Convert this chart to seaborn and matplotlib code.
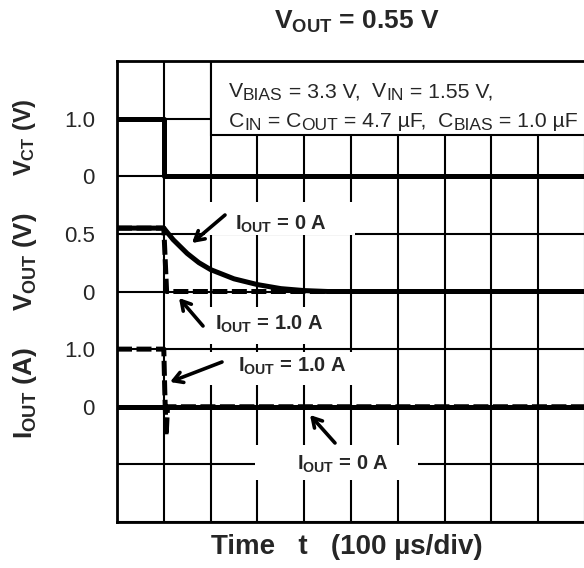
import numpy as np
import pandas as pd
import matplotlib
matplotlib.use("Agg")
import matplotlib.pyplot as plt
from matplotlib.patches import Rectangle
import seaborn as sns

# ---------------- data (time in microseconds) ----------------
t_vct = [0, 100, 100, 1000]
vct = [1.0, 1.0, 0.0, 0.0]

t_vout_0a = [0, 100, 110, 120, 130, 150, 175, 200, 250, 300, 350, 400, 450, 1000]
vout_0a = [0.55, 0.55, 0.50, 0.45, 0.41, 0.33, 0.25, 0.19, 0.11, 0.06, 0.025, 0.008, 0.0, 0.0]

t_vout_1a = [0, 100, 106, 1000]
vout_1a = [0.55, 0.55, 0.0, 0.0]

t_iout_1a = [0, 100, 102, 105, 108, 1000]
iout_1a = [1.0, 1.0, 0.3, -0.5, 0.0, 0.0]

t_iout_0a = [0, 1000]
iout_0a = [0.0, 0.0]

ytick_labels = ["", "", "0", "1.0", "0", "0.5", "0", "1.0", ""]

# channel placement: (zero-level division, units per division)
VCT_BASE, VCT_SCALE = 6, 1.0
VOUT_BASE, VOUT_SCALE = 4, 0.5
IOUT_BASE, IOUT_SCALE = 2, 1.0
T_PER_DIV = 100.0

sns.set_theme(style="white")
plt.rcParams["font.family"] = ["Liberation Sans", "DejaVu Sans"]
plt.rcParams["mathtext.fontset"] = "custom"
plt.rcParams["mathtext.rm"] = "Liberation Sans"
plt.rcParams["mathtext.bf"] = "Liberation Sans:bold"
plt.rcParams["mathtext.it"] = "Liberation Sans:italic"

W, H = 584, 568
fig = plt.figure(figsize=(W / 100, H / 100), dpi=100)
fig.patch.set_facecolor("white")
ax = fig.add_axes([117 / W, 1 - 522 / H, (585 - 117) / W, (522 - 61) / H])
ax.set_facecolor("white")


def px(x):
    return (x - 117) / 46.8


def py(y):
    return (522 - y) / 57.625


def make_df(t, v, base, scale):
    return pd.DataFrame({"x": np.asarray(t) / T_PER_DIV,
                         "y": base + np.asarray(v) / scale})


LW = 3.6
solid = dict(color="black", lw=LW, sort=False, estimator=None, zorder=3, solid_capstyle="butt")
dashed = dict(color="black", lw=LW, sort=False, estimator=None, zorder=3.5,
              dashes=False, linestyle=(0, (3.0, 0.9)), dash_capstyle="butt")

sns.lineplot(data=make_df(t_vct, vct, VCT_BASE, VCT_SCALE), x="x", y="y", ax=ax, **solid)
sns.lineplot(data=make_df(t_vout_0a, vout_0a, VOUT_BASE, VOUT_SCALE), x="x", y="y", ax=ax, **solid)
sns.lineplot(data=make_df(t_iout_0a, iout_0a, IOUT_BASE, IOUT_SCALE), x="x", y="y", ax=ax, **solid)
sns.lineplot(data=make_df(t_vout_1a, vout_1a, VOUT_BASE, VOUT_SCALE), x="x", y="y", ax=ax, **dashed)
sns.lineplot(data=make_df(t_iout_1a, iout_1a, IOUT_BASE, IOUT_SCALE), x="x", y="y", ax=ax, **dashed)

ax.set_xlim(0, 10)
ax.set_ylim(0, 8)
ax.set_xticks(range(0, 11))
ax.set_xticklabels([])
ax.set_yticks(range(0, 9))
ax.set_yticklabels(ytick_labels, fontsize=16)
ax.tick_params(axis="both", length=0, pad=16)
ax.set_xlabel("")
ax.set_ylabel("")
ax.grid(True, color="black", lw=1.5)
ax.set_axisbelow(True)
for side in ["left", "top", "bottom"]:
    ax.spines[side].set_color("black")
    ax.spines[side].set_linewidth(2)
ax.spines["right"].set_visible(False)

# white boxes behind annotation labels
for (x0, x1, y0, y1) in [(205, 355, 202, 235), (205, 340, 307, 344),
                         (205, 357, 352, 385), (255, 418, 445, 480)]:
    ax.add_patch(Rectangle((px(x0), py(y1)), px(x1) - px(x0), py(y0) - py(y1),
                           facecolor="white", edgecolor="none", zorder=1.5))

# info box
ax.add_patch(Rectangle((px(211), py(135)), 10, 3, facecolor="white",
                       edgecolor="black", lw=1.5, zorder=2, clip_on=True))

renderer = fig.canvas.get_renderer()


def text_width(s, size):
    t = fig.text(0, 0, "|" + s + "|", fontsize=size)
    t2 = fig.text(0, 0, "||", fontsize=size)
    w = t.get_window_extent(renderer).width - t2.get_window_extent(renderer).width
    t.remove()
    t2.remove()
    return w


def rich_line(x_px, base_px, pieces, size, sub_scale=0.82, sub_dy=2.7):
    """pieces: list of (text, is_subscript); coordinates in image pixels (top-left origin)."""
    x = x_px
    for s, sub in pieces:
        fs = size * sub_scale if sub else size
        yb = base_px + (sub_dy if sub else 0)
        fig.text(x / W, 1 - yb / H, s, fontsize=fs, ha="left", va="baseline", zorder=6)
        x += text_width(s, fs)


INFO_FS = 15.3
rich_line(229, 97, [("V", False), ("BIAS", True), (" = 3.3 V,  ", False),
                    ("V", False), ("IN", True), (" = 1.55 V,", False)], INFO_FS)
rich_line(229, 127, [("C", False), ("IN", True), (" = ", False), ("C", False),
                     ("OUT", True), (" = 4.7 µF,  ", False), ("C", False),
                     ("BIAS", True), (" = 1.0 µF", False)], INFO_FS)

# annotations
ann_kw = dict(fontsize=14.5, fontweight="bold", ha="left", va="center", zorder=6)
arrow_kw = dict(arrowstyle="->,head_length=0.55,head_width=0.32", color="black",
                lw=2.6, shrinkA=0, shrinkB=0)

labels = [
    (r"$\mathbf{I_{OUT}}$ = 0 A", (235, 224), (225, 215), (192, 243)),
    (r"$\mathbf{I_{OUT}}$ = 1.0 A", (215, 324), (203, 326), (179, 298)),
    (r"$\mathbf{I_{OUT}}$ = 1.0 A", (238, 366), (222, 362), (170, 382)),
    (r"$\mathbf{I_{OUT}}$ = 0 A", (297, 464), (335, 443), (310, 415)),
]
for txt, (tx, ty), (ax0, ay0), (hx, hy) in labels:
    ax.text(px(tx), py(ty), txt, **ann_kw)
    ax.annotate("", xy=(px(hx), py(hy)), xytext=(px(ax0), py(ay0)),
                arrowprops=arrow_kw, zorder=6)

# channel labels
fig.text(25 / W, 1 - 137 / H, r"$\mathbf{V_{CT}}$ (V)", rotation=90, ha="center",
         va="center", fontsize=17, fontweight="bold")
fig.text(25 / W, 1 - 262 / H, r"$\mathbf{V_{OUT}}$ (V)", rotation=90, ha="center",
         va="center", fontsize=18.5, fontweight="bold")
fig.text(25 / W, 1 - 393 / H, r"$\mathbf{I_{OUT}}$ (A)", rotation=90, ha="center",
         va="center", fontsize=19, fontweight="bold")

fig.text(357 / W, 1 - 22 / H, r"$\mathbf{V_{OUT}}$ = 0.55 V", ha="center", va="center",
         fontsize=19, fontweight="bold")
fig.text(347 / W, 1 - 547 / H, "Time   t   (100 µs/div)", ha="center", va="center",
         fontsize=20, fontweight="bold")

fig.savefig("out.png", dpi=100, facecolor="white")
